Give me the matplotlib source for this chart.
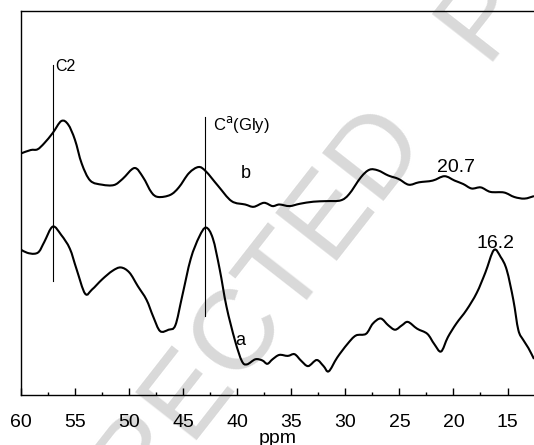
import numpy as np
import matplotlib
matplotlib.use('Agg')
from matplotlib import pyplot as plt
from matplotlib.ticker import MultipleLocator
from matplotlib.path import Path
from matplotlib.patches import PathPatch

plt.rcParams['font.family'] = ['Liberation Sans', 'DejaVu Sans']

# spectrum b (upper trace), ppm vs intensity (arb. units)
ppm_b = [60.0, 59.11, 58.48, 57.85, 57.07, 56.28, 55.65, 55.02, 54.39, 53.60,
         52.50, 51.40, 50.61, 49.51, 48.72, 47.93, 47.30, 46.20, 45.41, 44.47,
         43.58, 42.90, 41.79, 40.53, 39.27, 38.48, 37.53, 36.74, 36.11, 35.17,
         34.22, 32.96, 31.70, 30.44, 29.66, 28.56, 27.77, 26.98, 26.03, 25.09,
         24.14, 23.19, 21.93, 20.83, 19.89, 19.10, 18.32, 17.47, 16.58, 15.32,
         14.37, 13.43, 12.55]
int_b = [241.7, 245.1, 245.8, 252.0, 262.2, 274.1, 270.7, 255.4, 231.5, 214.5,
         210.4, 210.1, 216.2, 227.1, 217.9, 202.6, 198.1, 200.2, 207.7, 222.0,
         228.1, 223.7, 209.4, 194.0, 190.6, 188.3, 192.3, 189.0, 190.6, 189.0,
         191.3, 193.4, 194.0, 194.7, 200.9, 217.9, 225.4, 224.7, 219.6, 216.2,
         210.4, 212.8, 214.5, 218.9, 214.5, 211.1, 206.6, 207.7, 203.2, 202.6,
         198.1, 196.5, 199.0]

# spectrum a (lower trace)
ppm_a = [60.0, 59.44, 58.80, 58.33, 57.85, 57.07, 56.28, 55.49, 54.87, 54.08,
         53.44, 52.50, 51.55, 50.77, 49.98, 49.20, 48.40, 47.77, 47.14, 46.36,
         45.73, 45.10, 44.31, 43.52, 42.89, 42.26, 41.63, 41.00, 40.21, 39.58,
         39.11, 38.33, 37.69, 37.22, 36.74, 36.11, 35.33, 34.70, 34.07, 33.44,
         32.65, 32.02, 31.54, 30.76, 29.81, 29.03, 28.09, 27.46, 26.73, 26.03,
         25.40, 24.77, 24.21, 23.36, 22.42, 21.78, 21.15, 20.52, 19.74, 18.79,
         17.85, 17.05, 16.26, 15.63, 15.07, 14.46, 14.00, 13.54, 13.07, 12.55]
int_a = [145.3, 142.3, 141.3, 143.6, 153.2, 168.5, 160.0, 146.4, 125.9, 101.4,
         105.5, 115.7, 124.2, 127.6, 122.5, 108.9, 95.3, 78.2, 63.9, 65.3,
         69.7, 98.7, 136.1, 158.3, 167.5, 156.6, 125.9, 88.5, 54.4, 34.0,
         30.6, 35.7, 34.6, 31.2, 35.7, 40.1, 39.1, 40.8, 34.0, 28.9,
         35.0, 28.9, 23.7, 37.4, 51.0, 59.5, 61.2, 71.4, 76.5, 69.7,
         65.3, 69.7, 73.1, 66.3, 61.2, 51.0, 43.5, 57.8, 71.4, 85.1,
         102.1, 122.5, 145.0, 138.0, 125.0, 95.0, 65.0, 55.0, 47.0, 36.0]

# assignment markers: (ppm, bottom, top)
markers = [(57.06, 114, 330), (42.98, 79, 278.5)]


def smooth_trace(ax, xs, ys, **kw):
    # catmull-rom through the read points, drawn as bezier path
    p = np.column_stack([xs, ys]).astype(float)
    p = np.vstack([p[0], p, p[-1]])
    verts = [p[1]]
    codes = [Path.MOVETO]
    for i in range(1, len(p) - 2):
        c1 = p[i] + (p[i + 1] - p[i - 1]) / 6
        c2 = p[i + 1] - (p[i + 2] - p[i]) / 6
        verts += [c1, c2, p[i + 1]]
        codes += [Path.CURVE4] * 3
    ax.add_patch(PathPatch(Path(verts, codes), fill=False, **kw))


fig = plt.figure(figsize=(5.34, 4.45), dpi=100)

# grey watermark behind the plot
fig.text(0.6768, 0.4825, 'CORRECTED   PROOF', fontsize=82, color='#d9d9d9',
         rotation=52, rotation_mode='anchor', ha='center', va='baseline',
         zorder=-1)

ax = fig.add_axes([0.0395, 0.1124, 0.9605, 0.8624])
ax.patch.set_alpha(0)

smooth_trace(ax, ppm_b, int_b, edgecolor='black', lw=1.5)
smooth_trace(ax, ppm_a, int_a, edgecolor='black', lw=1.5)
for x, y0, y1 in markers:
    ax.plot([x, x], [y0, y1], color='black', lw=0.8)

ax.text(57.0 - 0.15, 328.6, 'C2', fontsize=11.5, ha='left', va='center')
ax.text(42.25, 271, 'C$^{\\mathrm{a}}$(Gly)', fontsize=12, ha='left', va='center')
ax.text(39.2, 222, 'b', fontsize=13, ha='center', va='center')
ax.text(39.74, 54.4, 'a', fontsize=13, ha='center', va='center')
ax.text(19.8, 228, '20.7', fontsize=14, ha='center', va='center')
ax.text(16.1, 151.5, '16.2', fontsize=14, ha='center', va='center')

ax.set_xlim(60, 12.55)
ax.set_ylim(0, 384)
ax.xaxis.set_major_locator(MultipleLocator(5))
ax.xaxis.set_minor_locator(MultipleLocator(2.5))
ax.tick_params(axis='x', which='major', direction='in', length=5, width=1,
               labelsize=14, pad=14)
ax.tick_params(axis='x', which='minor', direction='in', length=2.5, width=1)
ax.set_yticks([])
ax.spines['right'].set_visible(False)
for s in ['left', 'top', 'bottom']:
    ax.spines[s].set_linewidth(1.0)
ax.set_xlabel('ppm', fontsize=14, labelpad=-1)

fig.savefig('out.png', dpi=100)
